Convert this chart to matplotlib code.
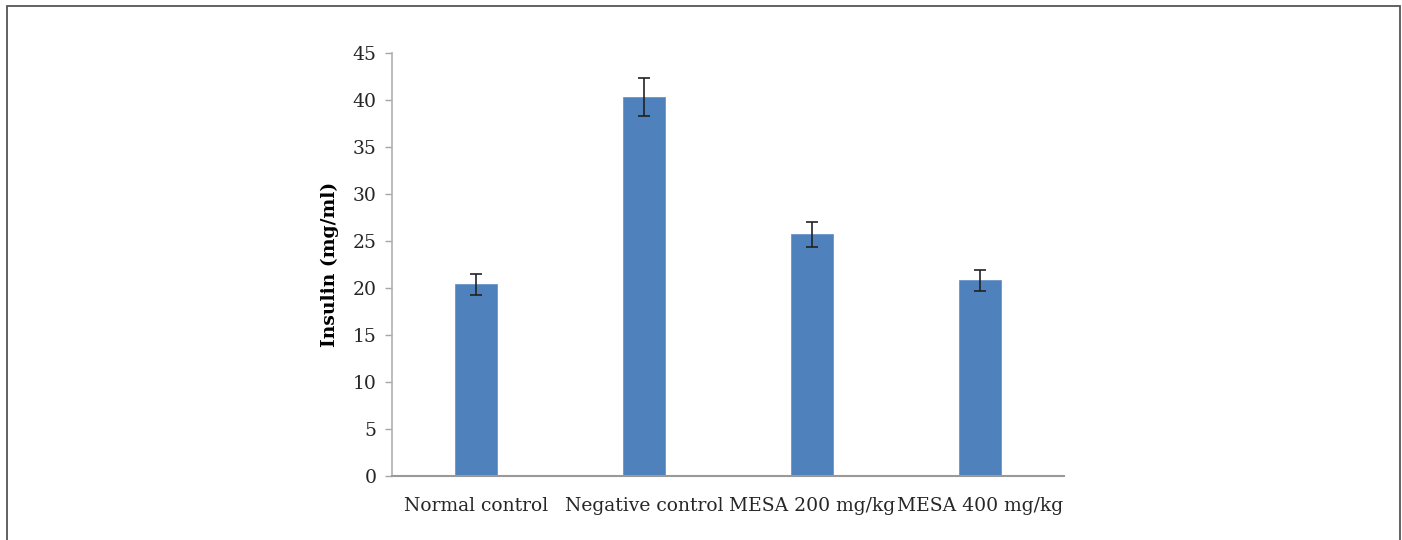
import matplotlib.pyplot as plt
import matplotlib.patches as mpatches
import numpy as np

groups = ['Normal control', 'Negative control', 'MESA 200 mg/kg', 'MESA 400 mg/kg']
insulin = [20.4, 40.3, 25.7, 20.8]
sem = [1.1, 2.0, 1.3, 1.1]
yticks = list(range(0, 50, 5))

plt.rcParams['font.family'] = ['DejaVu Serif']

fig = plt.figure(figsize=(14.02, 5.4), dpi=100)
ax = fig.add_axes([392 / 1402, 1 - 476 / 540, 672 / 1402, 423 / 540])

x = np.arange(len(groups))
ax.bar(x, insulin, width=0.25, color='#4f81bd', edgecolor='#6a96cc', linewidth=0.6, zorder=2)
ax.errorbar(x, insulin, yerr=sem, fmt='none', ecolor='#222222', elinewidth=1.2,
            capsize=4, capthick=1.2, zorder=3)

ax.set_xlim(-0.5, 3.5)
ax.set_ylim(0, 45)
ax.set_yticks(yticks)
ax.set_xticks(x)
ax.set_xticklabels(groups, fontsize=13.5, color='#262626')
ax.tick_params(axis='x', length=0, pad=15)
ax.tick_params(axis='y', length=5, width=1, color='#a6a6a6', labelsize=13.5,
               labelcolor='#262626', pad=6)
ax.set_ylabel('Insulin (mg/ml)', fontsize=13.5, fontweight='bold', labelpad=10)

for side in ['top', 'right']:
    ax.spines[side].set_visible(False)
ax.spines['left'].set_color('#b0b0b0')
ax.spines['bottom'].set_color('#999999')
ax.spines['left'].set_linewidth(1.2)
ax.spines['bottom'].set_linewidth(1.5)

# outer frame of the figure
frame = mpatches.Rectangle((7 / 1402, -0.02), 1393 / 1402, 1 - 6 / 540 + 0.02,
                           transform=fig.transFigure, fill=False,
                           edgecolor='#555555', linewidth=1.3)
fig.patches.append(frame)

fig.savefig('out.png', dpi=100)
